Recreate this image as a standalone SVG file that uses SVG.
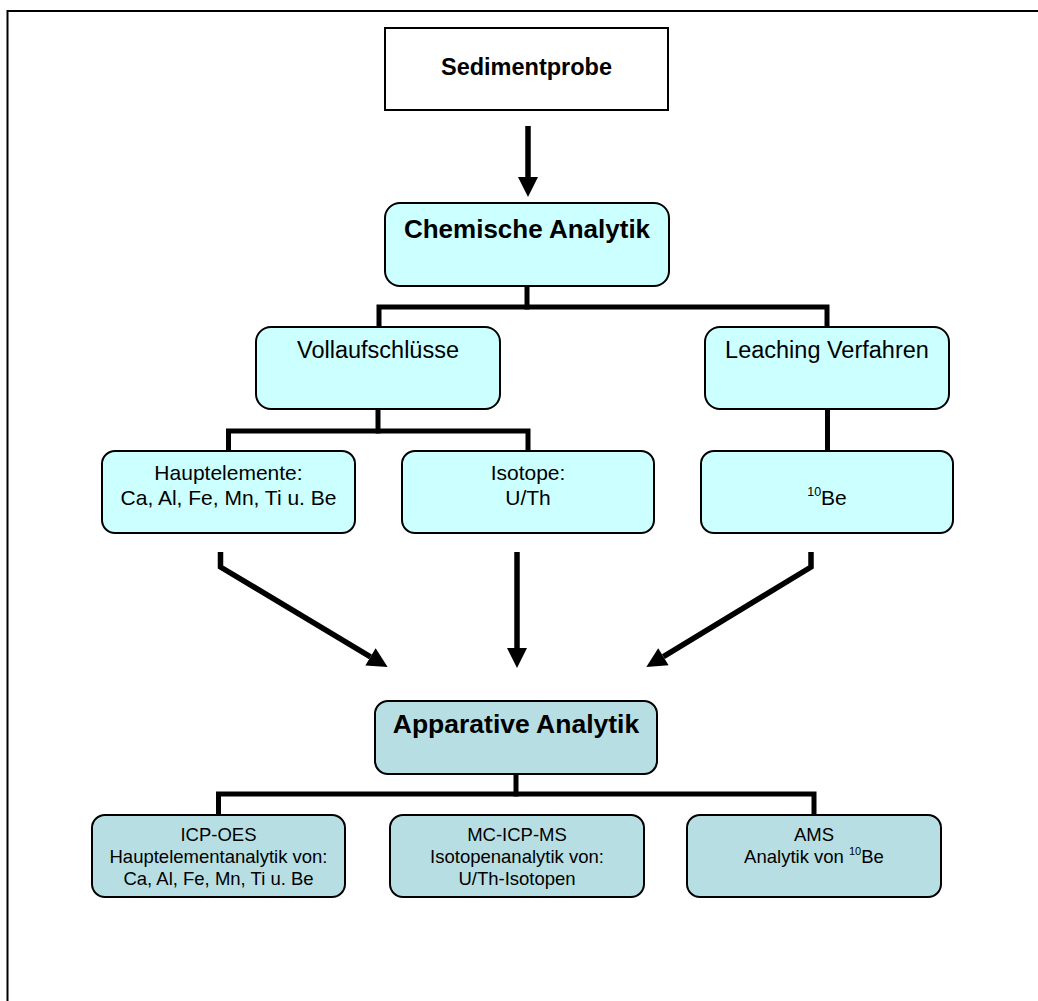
<svg xmlns="http://www.w3.org/2000/svg" width="1038" height="1001" viewBox="0 0 1038 1001">
<style>
text{font-family:"Liberation Sans",Arial,sans-serif;fill:#000;text-anchor:middle}
.b{font-weight:bold}
.box{stroke:#000;stroke-width:2}
.c1{fill:#CCFFFF}
.c2{fill:#B7DFE3}
.con{fill:none;stroke:#000;stroke-width:5;stroke-linecap:square;stroke-linejoin:miter}
.arr{fill:none;stroke:#000;stroke-width:5.5;marker-end:url(#ah)}
.t23{font-size:23.5px}
.t21{font-size:21px}
.t18{font-size:18.5px}
</style>
<defs>
<marker id="ah" markerUnits="userSpaceOnUse" markerWidth="20" markerHeight="20" refX="0" refY="9" orient="auto" viewBox="0 0 18 18" overflow="visible">
<path d="M0,0 L18,9 L0,18 z" fill="#000"/>
</marker>
</defs>
<rect x="0" y="0" width="1038" height="1001" fill="#fff"/>
<rect x="7.5" y="11" width="1100" height="1100" fill="none" stroke="#000" stroke-width="2"/>

<g id="connectors">
<polyline class="con" points="527,288 527,307"/>
<polyline class="con" points="379,327 379,307 827,307 827,327"/>
<polyline class="con" points="378,411 378,431"/>
<polyline class="con" points="228.5,451 228.5,431 528,431 528,451"/>
<polyline class="con" points="827.5,411 827.5,450"/>
<polyline class="con" points="516,776 516,794"/>
<polyline class="con" points="218.5,815 218.5,794 814,794 814,815"/>
<line class="arr" x1="528" y1="126" x2="528" y2="177"/>
<polyline class="arr" points="220.5,552 220.5,567 370.5,656.8"/>
<line class="arr" x1="517" y1="552" x2="517" y2="648"/>
<polyline class="arr" points="811,552 811,567 663.4,656.7"/>
</g>

<g id="sedimentprobe">
<rect class="box" x="385" y="28" width="283" height="82" fill="#fff"/>
<text class="b t23" x="526.5" y="75">Sedimentprobe</text>
</g>
<g id="chemische">
<rect class="box c1" x="385" y="203" width="284" height="83" rx="15"/>
<text class="b" x="527" y="238" font-size="26">Chemische Analytik</text>
</g>
<g id="vollaufschluesse">
<rect class="box c1" x="256" y="327" width="244" height="82" rx="15"/>
<text class="t23" x="378" y="358">Vollaufschlüsse</text>
</g>
<g id="leaching">
<rect class="box c1" x="705" y="327" width="244" height="82" rx="15"/>
<text class="t23" x="827" y="358">Leaching Verfahren</text>
</g>
<g id="hauptelemente">
<rect class="box c1" x="102" y="451" width="253" height="82" rx="13"/>
<text class="t21" x="228.5" y="480">Hauptelemente:</text>
<text class="t21" x="228.5" y="505">Ca, Al, Fe, Mn, Ti u. Be</text>
</g>
<g id="isotope">
<rect class="box c1" x="402" y="451" width="252" height="82" rx="13"/>
<text class="t21" x="528" y="480">Isotope:</text>
<text class="t21" x="528" y="505">U/Th</text>
</g>
<g id="be10">
<rect class="box c1" x="701" y="451" width="252" height="82" rx="13"/>
<text class="t21" x="827" y="505"><tspan font-size="12.5" dy="-9">10</tspan><tspan dy="9">Be</tspan></text>
</g>
<g id="apparative">
<rect class="box c2" x="375" y="701" width="282" height="73" rx="13"/>
<text class="b" x="516" y="733" font-size="26.5">Apparative Analytik</text>
</g>
<g id="icpoes">
<rect class="box c2" x="92" y="815" width="253" height="82" rx="13"/>
<text class="t18" x="218.5" y="840.7">ICP-OES</text>
<text class="t18" x="218.5" y="862.7">Hauptelementanalytik von:</text>
<text class="t18" x="218.5" y="884.7">Ca, Al, Fe, Mn, Ti u. Be</text>
</g>
<g id="mcicpms">
<rect class="box c2" x="390" y="815" width="254" height="82" rx="13"/>
<text class="t18" x="517" y="840.7">MC-ICP-MS</text>
<text class="t18" x="517" y="862.7">Isotopenanalytik von:</text>
<text class="t18" x="517" y="884.7">U/Th-Isotopen</text>
</g>
<g id="ams">
<rect class="box c2" x="687" y="815" width="254" height="82" rx="13"/>
<text class="t18" x="814" y="840.7">AMS</text>
<text class="t18" x="814" y="862.7">Analytik von <tspan font-size="11" dy="-8">10</tspan><tspan dy="8">Be</tspan></text>
</g>
</svg>
